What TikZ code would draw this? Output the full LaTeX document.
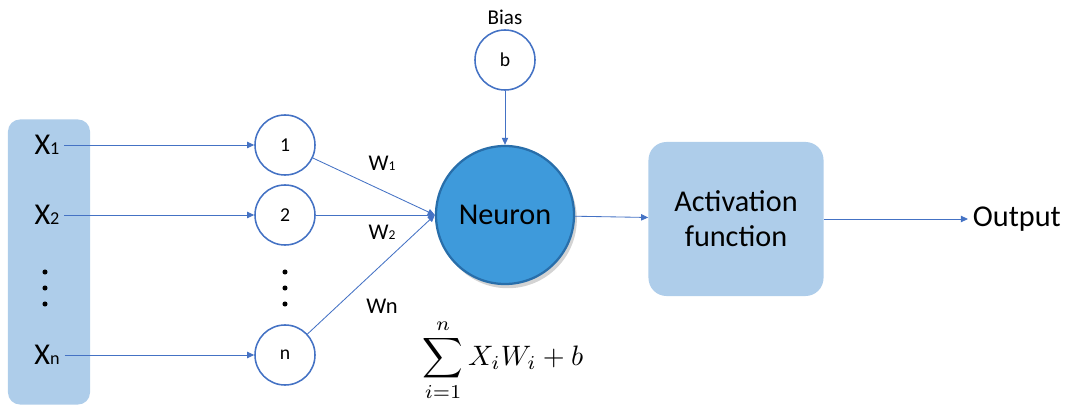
\documentclass[tikz,border=0pt]{standalone}
\usepackage{fontspec}
\setmainfont{Carlito}
\usetikzlibrary{arrows.meta, positioning, shadows}
\definecolor{linkblue}{RGB}{68,114,196}
\definecolor{panelblue}{RGB}{174,205,234}
\definecolor{neuroncore}{RGB}{62,154,219}
\definecolor{neuronedge}{RGB}{40,110,170}
\newcommand{\idx}[1]{\scalebox{0.6}{#1}}

\begin{document}
\begin{tikzpicture}[x=0.025cm, y=-0.025cm, >={Triangle[length=5pt,width=4.5pt]},
    link/.style={->, draw=linkblue, line width=0.6pt},
    unit/.style={circle, draw=linkblue, line width=1.1pt, minimum size=1.5cm, fill=white, font=\fontsize{14}{16}\selectfont},
    bigtext/.style={font=\fontsize{21.5}{25}\selectfont},
    weight/.style={font=\fontsize{16}{18}\selectfont}]
    \useasboundingbox (0,0) rectangle (1066,412);
    \node[fill=panelblue, rounded corners=0.3cm, minimum width=2.05cm, minimum height=7.125cm] (inpanel) at (49,262) {};
    \node[bigtext] (x1) at (47,145) {X\idx{1}};
    \node[bigtext] (x2) at (47,215) {X\idx{2}};
    \node[bigtext] (xn) at (47,355) {X\idx{n}};
    \node[unit] (in1) at (285,145) {1};
    \node[unit] (in2) at (285,215) {2};
    \node[unit] (inn) at (285,355) {n};
    \foreach \y in {272,288,304} {
      \fill (45,\y) circle (1.8pt);
      \fill (285,\y) circle (1.8pt);
    }
    \node[unit] (bias) at (505,60) {b};
    \node[font=\fontsize{15}{17}\selectfont] (biaslabel) at (505,17) {Bias};
    \node[circle, minimum size=3.45cm, fill=neuroncore, draw=neuronedge, line width=1.6pt,
      drop shadow={opacity=0.35, shadow xshift=2pt, shadow yshift=-3pt}, bigtext] (neuron) at (505,215) {Neuron};
    \node[fill=panelblue, rounded corners=0.45cm, minimum width=4.375cm, minimum height=3.85cm, bigtext, align=center] (act) at (736,219) {Activation\\function};
    \node[bigtext, anchor=west] (out) at (968,219) {Output};
    \node (sum) at (503,360) {\scalebox{2}{$\displaystyle\sum_{i=1}^{n} X_iW_i + b$}};
    \node[weight] (w1) at (382,163) {W\idx{1}};
    \node[weight] (w2) at (382,232) {W\idx{2}};
    \node[weight] (wn) at (382,306) {Wn};
    \draw[link] (x1) -- (in1);
    \draw[link] (x2) -- (in2);
    \draw[link] (xn) -- (inn);
    \draw[link] (in1) -- (neuron.west);
    \draw[link] (in2) -- (neuron.west);
    \draw[link] (inn) -- (neuron.west);
    \draw[link] (bias) -- (neuron);
    \draw[link] (neuron) -- (act);
    \draw[link] (act) -- (out);
\end{tikzpicture}
\end{document}
